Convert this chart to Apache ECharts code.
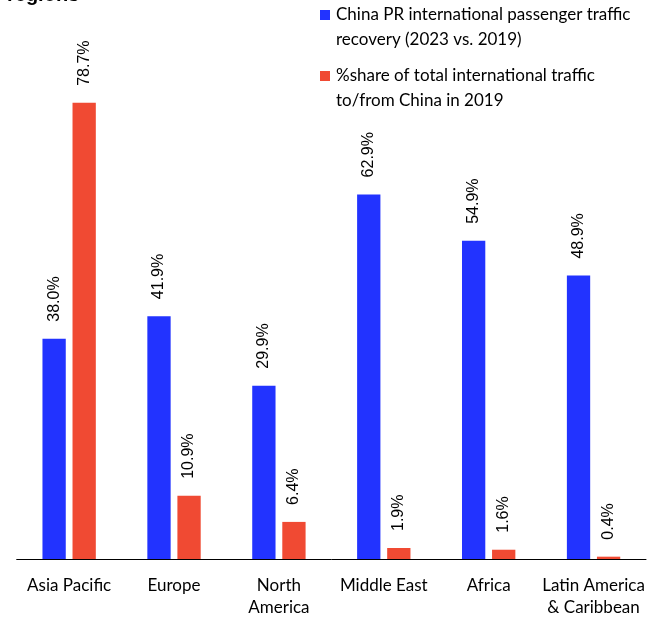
<!DOCTYPE html>
<html>
<head>
<meta charset="utf-8">
<script src="https://cdn.jsdelivr.net/npm/echarts@6/dist/echarts.min.js"></script>
<style>
html,body{margin:0;padding:0;background:#fff;}
#chart{width:659px;height:619px;}
</style>
</head>
<body>
<div id="chart"></div>
<script>
const categories = ['Asia Pacific', 'Europe', 'North\nAmerica', 'Middle East', 'Africa', 'Latin America\n& Caribbean'];
const recovery = [38.0, 41.9, 29.9, 62.9, 54.9, 48.9];
const share2019 = [78.7, 10.9, 6.4, 1.9, 1.6, 0.4];
const seriesNames = ['China PR international passenger traffic\nrecovery (2023 vs. 2019)',
                     '%share of total international traffic\nto/from China in 2019'];
const colors = ['#2233FF', '#F04A33'];

const chart = echarts.init(document.getElementById('chart'));
const labelOpt = {
  show: true,
  position: 'top',
  rotate: 90,
  align: 'left',
  verticalAlign: 'middle',
  distance: 17,
  fontFamily: 'Liberation Sans',
  fontSize: 16,
  color: '#000',
  formatter: p => p.value.toFixed(1) + '%'
};
const legendFont = {fontFamily: 'Lato', fontSize: 17, lineHeight: 25, fill: '#000'};
chart.setOption({
  animation: false,
  title: {
    text: 'regions', left: 7, top: -15, padding: 0,
    textStyle: {fontFamily: 'Liberation Sans', fontWeight: 'bold', fontSize: 20, color: '#000'}
  },
  grid: {left: 16.7, right: 13, top: 95.3, bottom: 55},
  xAxis: {
    type: 'category',
    data: categories,
    axisLine: {lineStyle: {color: '#000', width: 1}},
    axisTick: {length: 6, lineStyle: {color: '#000'}},
    axisLabel: {fontFamily: 'Lato', fontSize: 17, color: '#000', margin: 16, lineHeight: 22, interval: 0}
  },
  yAxis: {type: 'value', min: 0, max: 80, show: false, splitLine: {show: false}},
  graphic: [
    {type: 'rect', left: 320, top: 10, shape: {width: 10, height: 10}, style: {fill: colors[0]}},
    {type: 'text', left: 336, top: 2, style: Object.assign({text: seriesNames[0]}, legendFont)},
    {type: 'rect', left: 320, top: 71, shape: {width: 10, height: 10}, style: {fill: colors[1]}},
    {type: 'text', left: 336, top: 63, style: Object.assign({text: seriesNames[1]}, legendFont)}
  ],
  series: [
    {name: seriesNames[0], type: 'bar', data: recovery, barWidth: 23.3, barGap: '29%',
     itemStyle: {color: colors[0]}, label: labelOpt},
    {name: seriesNames[1], type: 'bar', data: share2019, barWidth: 23.3, barGap: '29%',
     itemStyle: {color: colors[1]}, label: labelOpt}
  ]
});
</script>
</body>
</html>
